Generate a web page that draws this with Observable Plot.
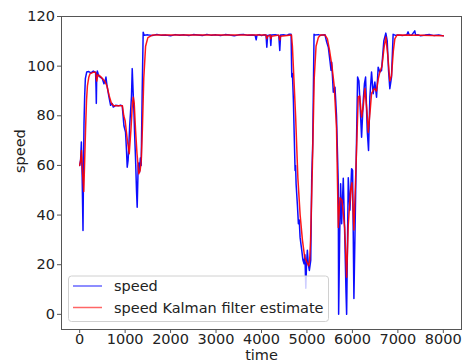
<!DOCTYPE html>
<html>
<head>
<meta charset="utf-8">
<script src="https://cdn.jsdelivr.net/npm/d3@7"></script>
<script src="https://cdn.jsdelivr.net/npm/@observablehq/plot@0.6"></script>
<style>
  html, body { margin: 0; padding: 0; background: white; }
  #chart { width: 463px; height: 364px; }
  svg { display: block; }
</style>
</head>
<body>
<div id="chart"></div>
<script>
const seriesNames = ["speed", "speed Kalman filter estimate"];
const xTicks = [0, 1000, 2000, 3000, 4000, 5000, 6000, 7000, 8000];
const yTicks = [0, 20, 40, 60, 80, 100, 120];

const speedTime = [0,20,37,55,73,85,95,110,125,154,200,250,300,350,360,366,375,388,405,424,460,497,534,560,578,595,607,640,680,710,739,790,850,900,936,955,973,1009,1030,1046,1065,1082,1100,1119,1140,1156,1175,1191,1210,1229,1250,1265,1287,1300,1316,1335,1353,1375,1397,1420,
1500,1600,1700,1800,1900,2000,2100,2200,2300,2400,2500,2600,2700,2800,2900,3000,3100,3200,3300,3400,3500,3600,3700,3800,3860,3883,3900,3950,4000,4050,4100,4117,4135,4190,4205,4220,4300,4380,4402,4420,4500,4560,4600,4651,
4666,4680,4702,4720,4739,4750,4761,4790,4812,4830,4849,4870,4886,4910,4936,4955,4975,4990,5009,5031,5053,5083,5105,5127,5156,5178,5250,5300,5397,
5434,5470,5507,5530,5544,5580,5617,5650,5689,5697,5720,5741,5763,5799,5836,5858,5873,5909,5946,5982,6004,6033,6077,6114,6143,6165,6202,6238,6265,6290,6326,6355,6384,6421,6457,6494,6531,6567,6604,6641,6692,6735,6765,6795,6823,6860,6896,
6950,7000,7100,7200,7225,7250,7300,7372,7390,7450,7500,7600,7700,7800,7900,8000];
const speedValues = [60,62,69.4,55,33.8,60,77,88,95,97.6,97.8,97.3,98,97.5,91,85,96,98,97,96,95.5,95,92.9,94,95.6,93,91.5,88,84.2,85,83.5,84.2,84,84.3,84,80,76,73.4,66,59.3,62,68,76,81.5,88,99,90,83,72,62.7,50,43.2,60,61,57.3,63,60,89.5,113.7,112.4,
112.6,112.3,112.8,112.4,112.5,112.2,112.7,112.4,112.6,112.3,112.7,112.5,112.3,112.8,112.4,112.6,112.3,112.7,112.5,112.2,112.6,112.8,112.4,112.5,112.4,110.6,112.5,112.7,112.3,112.6,112.5,107.6,112.4,112.6,108.3,112.5,112.7,112.4,106.3,112.5,112.6,112.4,112.8,112.8,
95.6,97,86,72,58,60,52.6,44,36.5,38,31,28,25.8,22,20.4,24,10.5,20,25.8,20,17.7,21.7,55,68.7,112.8,112.5,112.7,112.4,112.6,
109.7,107.6,102,98.3,101.6,89.5,91.5,80,52.6,0,31.8,52.6,36.5,54.8,28.5,9.7,0,55,42,58.7,58,6.4,55,95.6,94,86,71.4,86,93,95.6,74,66,87.5,97.6,88.9,93.6,87.5,99.6,97.6,98.3,110.3,113.3,110.3,98.3,90.9,95.6,112.8,
112.4,112.6,112.3,112.7,113.8,112.5,112.4,114.2,112.5,112.6,112.2,112.5,112.7,112.3,112.6,112.2];

const kalmanTime = [0,20,40,60,90,110,130,150,170,200,230,300,350,375,400,450,500,550,600,650,700,750,800,940,970,1000,1050,1090,1130,1160,1180,1200,1230,1260,1300,1330,1355,1380,1410,1450,1500,1600,
2500,3500,4100,4117,4135,4190,4205,4220,4380,4402,4420,4660,
4680,4700,4750,4800,4850,4900,4950,5000,5040,5060,5080,5120,5160,5200,5250,5300,5400,5450,5500,5550,5600,
5650,5690,5727,5770,5830,5873,5909,5960,5990,6033,6080,6128,6160,6202,6240,6275,6320,6348,6390,6421,6480,6530,6570,6604,6650,6700,6735,6780,6823,6860,6900,6933,6980,7500,8000];
const kalmanValues = [60,62,66,58,49.5,62,75,86,92,95.5,97,97.5,97.5,94,96.5,96,95,94,92,88,85,84,84,84,80,78,70,64.7,75,85,87.5,85,74,65,56.6,58,62,75,95,108,111.5,112.5,
112.5,112.5,112.5,111,112,112.5,111,112,112.5,110.5,112,112.5,
108,100,80,55,40,30,23,21,19.5,22,30,60,95,108,111.5,112.5,112.5,111,106,100,92,
75,35,47,46,35,15,36,50,53,34,60,87.5,88,79.5,84,91,82,73.4,82,89,91,90,95,97.6,100,108,111.7,104,94,96,106,111,112.5,112.4,112.2];

const speedData = speedTime.map((t, i) => ({t, v: speedValues[i]}));
const kalmanData = kalmanTime.map((t, i) => ({t, v: kalmanValues[i]}));

const textColor = "#222";
const spine = "#555";
const fs = 14.5;

const svg = Plot.plot({
  width: 463,
  height: 364,
  marginLeft: 61,
  marginRight: 2,
  marginTop: 16,
  marginBottom: 35,
  style: {fontFamily: "DejaVu Sans", fontSize: fs + "px", color: textColor, background: "white"},
  x: {domain: [-400, 8400]},
  y: {domain: [-6.1, 120]},
  marks: [
    Plot.line(speedData, {x: "t", y: "v", stroke: "#0000ff", strokeWidth: 1.5, strokeOpacity: 0.95}),
    Plot.line(kalmanData, {x: "t", y: "v", stroke: "#ff0000", strokeWidth: 1.5, strokeOpacity: 0.9}),
    Plot.frame({stroke: spine, strokeWidth: 1}),
    Plot.axisX({ticks: xTicks, tickSize: 4, tickPadding: 0, label: null, fontSize: fs, stroke: spine, tickFormat: d => String(d)}),
    Plot.axisY({ticks: yTicks, tickSize: 4, tickPadding: 2.5, label: null, fontSize: fs, stroke: spine, tickFormat: d => String(d)}),
    Plot.text(["time"], {frameAnchor: "bottom", dy: 30, fontSize: fs, fill: textColor}),
    Plot.text(["speed"], {frameAnchor: "left", dx: -41, rotate: -90, fontSize: fs, fill: textColor})
  ]
});

// legend in the lower-left corner, matplotlib style
const lg = d3.select(svg).append("g").attr("font-family", "DejaVu Sans").attr("font-size", fs)
  .attr("text-anchor", "start");
lg.append("rect").attr("x", 68.5).attr("y", 276).attr("width", 260).attr("height", 45.5)
  .attr("rx", 3).attr("fill", "white").attr("fill-opacity", 0.8).attr("stroke", "#d0d0d0");
const legendColors = ["#0000ff", "#ff0000"];
seriesNames.forEach((name, i) => {
  const cy = 286 + i * 21.5;
  lg.append("line").attr("x1", 73).attr("x2", 102).attr("y1", cy).attr("y2", cy)
    .attr("stroke", legendColors[i]).attr("stroke-opacity", 0.6).attr("stroke-width", 1.5);
  lg.append("text").attr("x", 114).attr("y", cy).attr("dy", "0.35em")
    .attr("text-anchor", "start").attr("fill", textColor).text(name);
});

document.getElementById("chart").appendChild(svg);
</script>
</body>
</html>
